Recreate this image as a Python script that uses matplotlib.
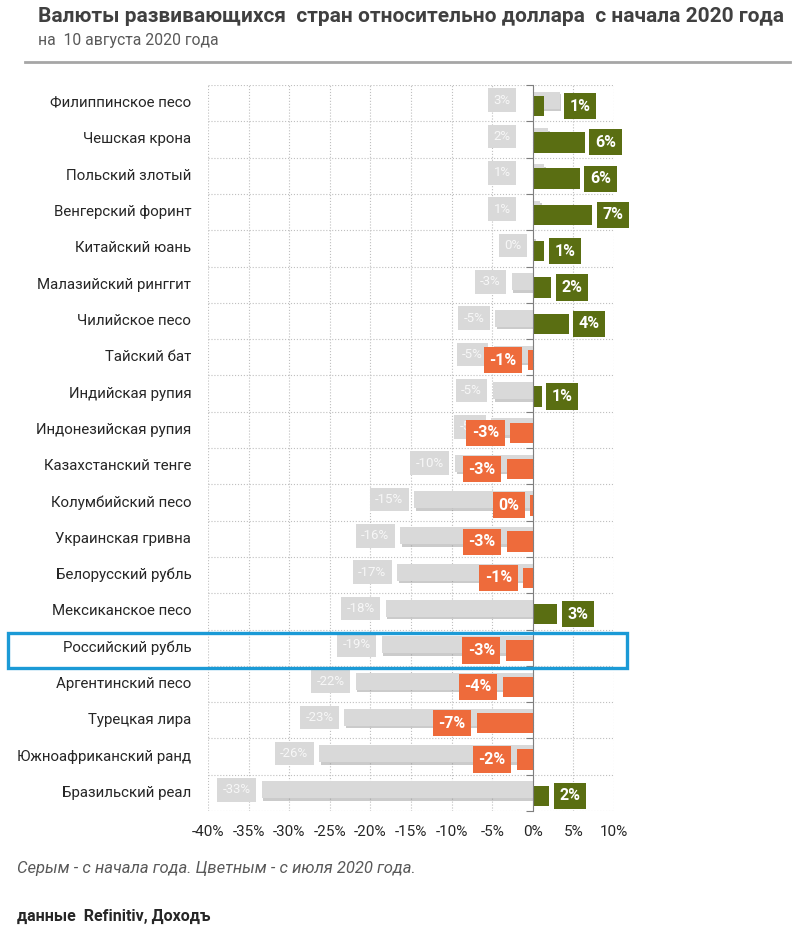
import numpy as np
import matplotlib
matplotlib.use('Agg')
import matplotlib.pyplot as plt
import matplotlib.patheffects as pe
from matplotlib.patches import Rectangle
from matplotlib.lines import Line2D
from matplotlib.transforms import blended_transform_factory

plt.rcParams['font.family'] = ['Roboto', 'DejaVu Sans']

# data: change vs USD, %
currencies = ['Филиппинское песо', 'Чешская крона', 'Польский злотый', 'Венгерский форинт',
              'Китайский юань', 'Малазийский ринггит', 'Чилийское песо', 'Тайский бат',
              'Индийская рупия', 'Индонезийская рупия', 'Казахстанский тенге', 'Колумбийский песо',
              'Украинская гривна', 'Белорусский рубль', 'Мексиканское песо', 'Российский рубль',
              'Аргентинский песо', 'Турецкая лира', 'Южноафриканский ранд', 'Бразильский реал']
since_jan = [3.3, 1.9, 1.4, 0.9, 0.2, -2.6, -4.6, -4.8, -4.9, -5.1,
             -9.6, -14.6, -16.3, -16.7, -18.1, -18.6, -21.8, -23.2, -26.3, -33.4]
since_jul = [1.4, 6.4, 5.8, 7.3, 1.4, 2.3, 4.4, -0.6, 1.1, -2.8,
             -3.2, -0.3, -3.2, -1.2, 3.0, -3.3, -3.7, -6.9, -2.0, 2.0]
xticks = [-40, -35, -30, -25, -20, -15, -10, -5, 0, 5, 10]
highlight = 'Российский рубль'

green = '#5a6e12'
orange = '#ee6b3b'
grey = '#d9d9d9'

n = len(currencies)
y = np.arange(n) + 0.5

fig = plt.figure(figsize=(8.01, 9.32), dpi=100)
ax = fig.add_axes([208/801, 1-811/932, 406/801, 726/932])

ax.barh(y - 0.08, since_jan, height=0.47, color=grey, zorder=2,
        path_effects=[pe.SimplePatchShadow(offset=(1.2, -1.8), shadow_rgbFace='#8c8c8c', alpha=0.45), pe.Normal()])
cols = [green if v >= 0 else orange for v in since_jul]
ax.barh(y + 0.08, since_jul, height=0.56, color=cols, zorder=3)

# labels for grey bars
for yi, g in zip(y, since_jan):
    if g >= 0.5:
        xa = -2.7
    else:
        xa = min(g, 0) - 1.35
    ax.text(xa, yi - 0.08, f'{round(g)}%', ha='right', va='center', fontsize=9.5, color='#f7f7f7',
            zorder=4, bbox=dict(boxstyle='square,pad=0.4', fc=grey, ec='none'))

# labels for coloured bars
for yi, g, c, col in zip(y, since_jan, since_jul, cols):
    if c >= 0:
        xa = max(c, g) + 1.25
        ha = 'left'
    else:
        xa = c - 1.37
        ha = 'right'
    ax.text(xa, yi + 0.08, f'{round(c)}%', ha=ha, va='center', fontsize=11.5, fontweight='bold',
            color='white', zorder=5, clip_on=False,
            bbox=dict(boxstyle='square,pad=0.35', fc=col, ec='none'))

ax.set_xlim(-40, 10)
ax.set_ylim(n, 0)
ax.set_xticks(xticks)
ax.set_xticklabels([f'{t}%' for t in xticks])
ax.set_yticks(np.arange(n + 1))
ax.set_yticklabels([])
ax.grid(True, ls=':', color='#bfbfbf', lw=0.8, zorder=0)
ax.set_axisbelow(True)
for s in ['top', 'right', 'bottom']:
    ax.spines[s].set_visible(False)
ax.spines['left'].set_position(('data', 0))
ax.spines['left'].set_color('#7f7f7f')
ax.spines['left'].set_zorder(6)
ax.tick_params(axis='y', length=5, color='#7f7f7f', direction='out')
ax.tick_params(axis='x', length=0, pad=10, labelsize=11, labelcolor='#262626')

for yi, name in zip(y, currencies):
    ax.annotate(name, xy=(0, yi), xycoords=('axes fraction', 'data'), xytext=(-12, 0),
                textcoords='offset points', ha='right', va='center', fontsize=10.8, color='#262626')

# highlight box
hi = currencies.index(highlight)
tr = blended_transform_factory(fig.transFigure, ax.transData)
fig.add_artist(Rectangle((8/801, hi + 0.1), 619/801, 0.95, transform=tr, fill=False,
                         ec='#1b9ad6', lw=2.4, clip_on=False))

fig.text(38/801, 1-17/932, 'Валюты развивающихся  стран относительно доллара  с начала 2020 года',
         fontsize=15, fontweight='bold', color='#404040', va='center')
fig.text(38/801, 1-41/932, 'на  10 августа 2020 года', fontsize=11.3, color='#595959', va='center')
fig.add_artist(Line2D([25/801, 790/801], [1-62/932, 1-62/932], color='#a6a6a6', lw=2))
fig.text(17/801, 1-868/932, 'Серым - с начала года. Цветным - с июля 2020 года.', fontsize=12,
         style='italic', color='#595959', va='center')
fig.text(17/801, 1-916/932, 'данные  Refinitiv, Доходъ', fontsize=11.5, fontweight='bold',
         color='#262626', va='center')

fig.savefig('out.png', dpi=100)
